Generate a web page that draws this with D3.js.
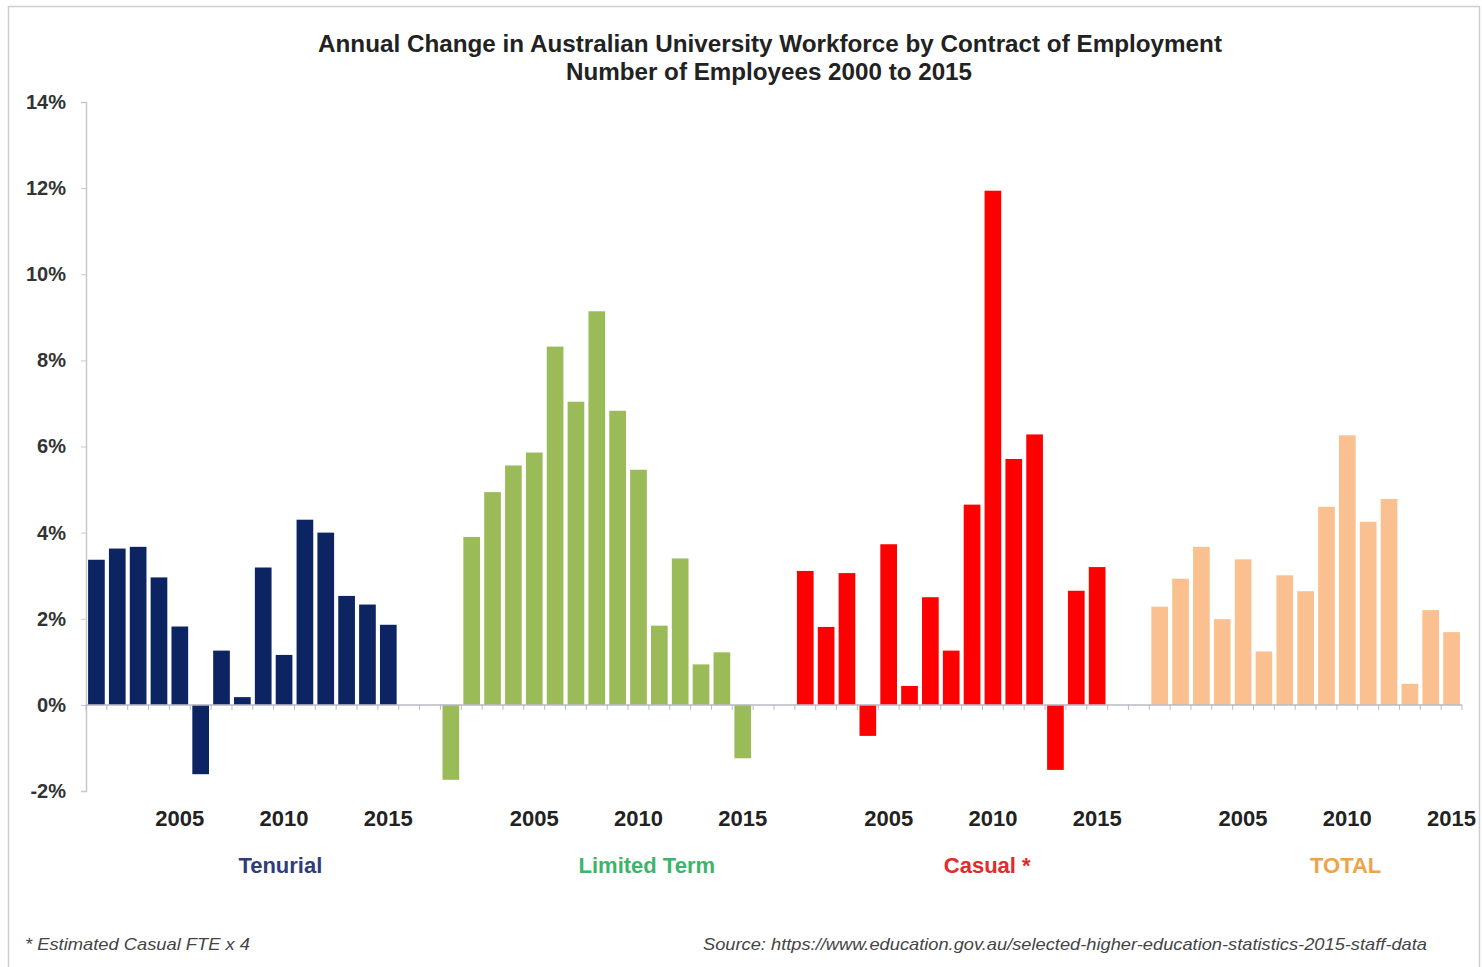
<!DOCTYPE html>
<html>
<head>
<meta charset="utf-8">
<script src="https://cdn.jsdelivr.net/npm/d3@7"></script>
<style>
  body { margin: 0; background: #fff; }
  svg { font-family: "Liberation Sans", Arial, sans-serif; }
</style>
</head>
<body>
<svg id="chart" width="1482" height="967"></svg>
<script>
// annual % change, 2001..2015
const years = [2001, 2002, 2003, 2004, 2005, 2006, 2007, 2008, 2009, 2010, 2011, 2012, 2013, 2014, 2015];
const groups = ["Tenurial", "Limited Term", "Casual *", "TOTAL"];

const tenurial    = [3.37, 3.63, 3.67, 2.96, 1.82, -1.61, 1.26, 0.18, 3.19, 1.16, 4.30, 4.00, 2.53, 2.33, 1.86];
const limitedTerm = [-1.74, 3.90, 4.94, 5.56, 5.86, 8.32, 7.04, 9.14, 6.83, 5.46, 1.84, 3.40, 0.94, 1.22, -1.24];
const casual      = [3.11, 1.81, 3.06, -0.72, 3.73, 0.44, 2.50, 1.26, 4.65, 11.94, 5.71, 6.28, -1.51, 2.65, 3.20];
const total       = [2.28, 2.93, 3.67, 1.99, 3.38, 1.24, 3.01, 2.64, 4.60, 6.26, 4.25, 4.78, 0.49, 2.20, 1.69];

const seriesValues = [tenurial, limitedTerm, casual, total];
const barColors   = ["#0c2461", "#9bbb59", "#ff0000", "#fac090"];
const labelColors = ["#2f3d78", "#3fb36a", "#e42a2a", "#eea24c"];

const yTicks = [-2, 0, 2, 4, 6, 8, 10, 12, 14];
const yearLabels = [2005, 2010, 2015];

const svg = d3.select("#chart");

// frame
svg.append("rect")
    .attr("x", 8.5).attr("y", 6.5)
    .attr("width", 1471).attr("height", 975)
    .attr("fill", "none")
    .attr("stroke", "#cfcfcf")
    .attr("stroke-width", 1.5);

// slots: 15 years per group, 2 empty slots between groups
let slots = [];
groups.forEach((g, gi) => {
    years.forEach(y => slots.push(g + "|" + y));
    if (gi < groups.length - 1) {
        slots.push("gap" + gi + "a");
        slots.push("gap" + gi + "b");
    }
});

const x = d3.scaleBand()
    .domain(slots)
    .range([86, 1462])
    .paddingInner(0.2)
    .paddingOuter(0.1);

const y = d3.scaleLinear()
    .domain([-2, 14])
    .range([791, 102]);

// y axis
const yAxis = d3.axisLeft(y)
    .tickValues(yTicks)
    .tickSize(5)
    .tickFormat(d => d + "%");

const yg = svg.append("g")
    .attr("transform", "translate(86,0)")
    .call(yAxis);
yg.select(".domain").attr("stroke", "#c8c8c8").attr("stroke-width", 1.5);
yg.selectAll(".tick line").attr("stroke", "#c8c8c8");
yg.selectAll(".tick text")
    .attr("x", -20)
    .attr("fill", "#333")
    .style("font-size", "20px")
    .style("font-weight", "bold");

// bars
let bars = [];
groups.forEach((g, gi) => {
    seriesValues[gi].forEach((v, i) => {
        bars.push({ group: g, gi: gi, year: years[i], value: v });
    });
});

svg.append("g")
    .selectAll("rect")
    .data(bars)
    .enter().append("rect")
    .attr("x", d => x(d.group + "|" + d.year))
    .attr("width", x.bandwidth())
    .attr("y", d => y(Math.max(0, d.value)))
    .attr("height", d => Math.abs(y(d.value) - y(0)))
    .attr("fill", d => barColors[d.gi]);

// zero line with slot boundary ticks
const boundaries = d3.range(slots.length + 1).map(i => 86 + i * (1376 / slots.length));

svg.append("line")
    .attr("x1", 86).attr("x2", 1462)
    .attr("y1", y(0)).attr("y2", y(0))
    .attr("stroke", "#b8b8c4")
    .attr("stroke-width", 1.5);

svg.append("g")
    .selectAll("line")
    .data(boundaries)
    .enter().append("line")
    .attr("x1", d => d).attr("x2", d => d)
    .attr("y1", y(0)).attr("y2", y(0) + 5)
    .attr("stroke", "#b8b8c4");

// year labels under each group
let yearLabelData = [];
groups.forEach(g => yearLabels.forEach(yr => yearLabelData.push({ group: g, year: yr })));

svg.append("g")
    .selectAll("text")
    .data(yearLabelData)
    .enter().append("text")
    .attr("x", d => x(d.group + "|" + d.year) + x.bandwidth() / 2)
    .attr("y", 826)
    .attr("text-anchor", "middle")
    .attr("fill", "#222")
    .style("font-size", "22px")
    .style("font-weight", "bold")
    .text(d => d.year);

// group labels
svg.append("g")
    .selectAll("text")
    .data(groups)
    .enter().append("text")
    .attr("x", (g, gi) => {
        let a = x(g + "|" + years[0]), b = x(g + "|" + years[years.length - 1]) + x.bandwidth();
        return (a + b) / 2 + [38, 50, 36, 40][gi];
    })
    .attr("y", 873)
    .attr("text-anchor", "middle")
    .attr("fill", (g, gi) => labelColors[gi])
    .style("font-size", "22px")
    .style("font-weight", "bold")
    .text(g => g);

// title
const title = svg.append("text")
    .attr("text-anchor", "middle")
    .attr("fill", "#222")
    .style("font-size", "23px")
    .style("font-weight", "bold");
title.append("tspan").attr("x", 770).attr("y", 52)
    .attr("textLength", 904).attr("lengthAdjust", "spacingAndGlyphs")
    .text("Annual Change in Australian University Workforce by Contract of Employment");
title.append("tspan").attr("x", 769).attr("y", 80)
    .attr("textLength", 406).attr("lengthAdjust", "spacingAndGlyphs")
    .text("Number of Employees 2000 to 2015");

// footnotes
svg.append("text")
    .attr("x", 25).attr("y", 950)
    .attr("fill", "#444")
    .style("font-size", "17px")
    .style("font-style", "italic")
    .attr("textLength", 225).attr("lengthAdjust", "spacingAndGlyphs")
    .text("* Estimated Casual FTE x 4");

svg.append("text")
    .attr("x", 703).attr("y", 950)
    .attr("fill", "#444")
    .style("font-size", "17px")
    .style("font-style", "italic")
    .attr("textLength", 724).attr("lengthAdjust", "spacingAndGlyphs")
    .text("Source:   https://www.education.gov.au/selected-higher-education-statistics-2015-staff-data");
</script>
</body>
</html>
